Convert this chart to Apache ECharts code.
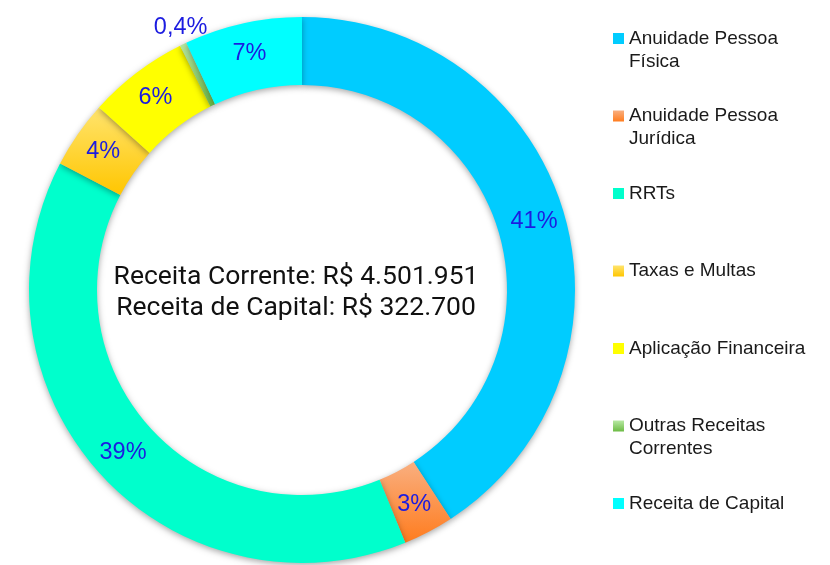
<!DOCTYPE html>
<html>
<head>
<meta charset="utf-8">
<script src="https://cdn.jsdelivr.net/npm/echarts@6/dist/echarts.min.js"></script>
<style>
  html, body { margin: 0; padding: 0; background: #fff; }
  #chart { width: 830px; height: 565px; }
</style>
</head>
<body>
<div id="chart"></div>
<script>
    // categorias e percentuais
    const categorias = [
        'Anuidade Pessoa Física',
        'Anuidade Pessoa Jurídica',
        'RRTs',
        'Taxas e Multas',
        'Aplicação Financeira',
        'Outras Receitas Correntes',
        'Receita de Capital'
    ];
    const percentuais = [41, 3, 39, 4, 6, 0.4, 7];

    const receitaCorrente = 4501951;
    const receitaCapital = 322700;

    const grad = (a, b) => new echarts.graphic.LinearGradient(0, 0, 0, 1, [
        { offset: 0, color: a },
        { offset: 1, color: b }
    ]);
    const cores = [
        '#00CCFF',
        grad('#F9AF80', '#FF7C1E'),
        '#00FFCC',
        grad('#FFE46E', '#FFC600'),
        '#FFFF00',
        grad('#B8E9A4', '#6CBB44'),
        '#00FFFF'
    ];

    // 4501951 -> 4.501.951
    const milhar = (n) => String(n).replace(/\B(?=(\d{3})+(?!\d))/g, '.');

    // legenda em 3 linhas (a 1a vazia) para o ícone ficar na altura da 1a linha do nome
    const quebra = (nome) => {
        if (nome.length <= 20) return ' \n' + nome + '\n ';
        const i = nome.lastIndexOf(' ', 16);
        return ' \n' + nome.slice(0, i) + '\n' + nome.slice(i + 1);
    };

    const chart = echarts.init(document.getElementById('chart'));
    chart.setOption({
        animation: false,
        legend: {
            orient: 'vertical',
            left: 613,
            top: 4,
            padding: 0,
            itemWidth: 11,
            itemHeight: 11,
            itemGap: 8.5,
            icon: 'rect',
            selectedMode: false,
            formatter: quebra,
            textStyle: {
                fontFamily: 'Liberation Sans',
                fontSize: 19,
                lineHeight: 23,
                color: '#1a1a1a'
            },
            data: categorias
        },
        graphic: [{
            type: 'text',
            x: 296,
            y: 293,
            style: {
                text: 'Receita Corrente: R$ ' + milhar(receitaCorrente) + '\n' +
                      'Receita de Capital: R$ ' + milhar(receitaCapital),
                align: 'center',
                verticalAlign: 'middle',
                fontFamily: 'Roboto',
                fontSize: 26.5,
                lineHeight: 31,
                fill: '#111'
            }
        }],
        series: [{
            type: 'pie',
            center: [302, 290],
            radius: [205, 273],
            startAngle: 90,
            clockwise: true,
            avoidLabelOverlap: false,
            emphasis: { disabled: true },
            itemStyle: {
                shadowBlur: 6,
                shadowColor: 'rgba(0,0,0,0.35)',
                shadowOffsetY: 2
            },
            label: {
                position: 'inside',
                fontFamily: 'Liberation Sans',
                fontSize: 23.5,
                color: '#1C1CE0',
                formatter: (p) => String(p.value).replace('.', ',') + '%'
            },
            labelLine: { show: false },
            // rótulo de 0,4% fica fora do anel
            labelLayout: (p) => p.dataIndex === 5 ? { dx: -16, dy: -45 } : {},
            data: categorias.map((nome, i) => ({
                name: nome,
                value: percentuais[i],
                itemStyle: { color: cores[i] }
            }))
        }]
    });
</script>
</body>
</html>
